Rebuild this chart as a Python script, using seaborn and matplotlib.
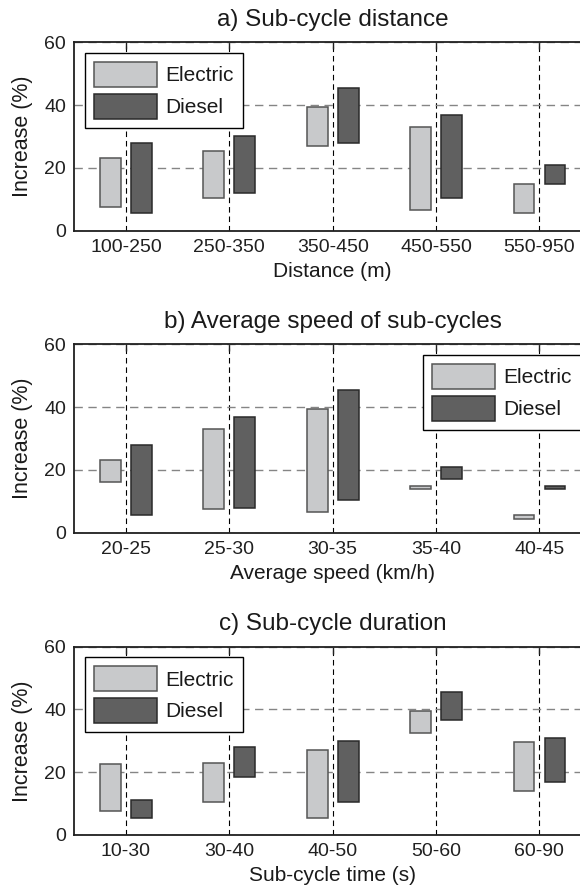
import matplotlib
matplotlib.use("Agg")
import matplotlib.pyplot as plt
import seaborn as sns
import numpy as np

# Sub-cycle distance bins: range of increase (%) per powertrain
dist_labels = ["100-250", "250-350", "350-450", "450-550", "550-950"]
dist_elec_low = [7.5, 10.5, 27, 6.5, 5.5]
dist_elec_high = [23, 25.5, 39.5, 33, 15]
dist_dies_low = [5.5, 12, 28, 10.5, 15]
dist_dies_high = [28, 30, 45.5, 37, 21]

# Average speed bins
speed_labels = ["20-25", "25-30", "30-35", "35-40", "40-45"]
speed_elec_low = [16, 7.5, 6.5, 14, 4.5]
speed_elec_high = [23, 33, 39.5, 15, 5.5]
speed_dies_low = [5.5, 8, 10.5, 17, 14]
speed_dies_high = [28, 37, 45.5, 21, 15]

# Sub-cycle duration bins
time_labels = ["10-30", "30-40", "40-50", "50-60", "60-90"]
time_elec_low = [7.5, 10.5, 5.5, 32.5, 14]
time_elec_high = [22.5, 23, 27, 39.5, 29.5]
time_dies_low = [5.5, 18.5, 10.5, 36.5, 17]
time_dies_high = [11, 28, 30, 45.5, 31]

y_ticks = [0, 20, 40, 60]

sns.set_theme(style="white")
plt.rcParams["font.family"] = ["Liberation Sans", "DejaVu Sans"]

ELEC_FACE, ELEC_EDGE = "#c8c9cb", "#555555"
DIES_FACE, DIES_EDGE = "#606060", "#2a2a2a"


def draw_panel(ax, labels, e_lo, e_hi, d_lo, d_hi, title, xlabel, legend_loc):
    pos = np.arange(1, len(labels) + 1)
    series = [
        ("Electric", e_lo, e_hi, -0.15, ELEC_FACE, ELEC_EDGE),
        ("Diesel", d_lo, d_hi, 0.15, DIES_FACE, DIES_EDGE),
    ]
    for name, lo, hi, shift, face, edge in series:
        lo = np.asarray(lo, dtype=float)
        hi = np.asarray(hi, dtype=float)
        sns.barplot(x=pos + shift, y=hi - lo, bottom=lo, native_scale=True,
                    width=0.2, color=face, saturation=1, edgecolor=edge,
                    linewidth=1.1, errorbar=None, label=name, ax=ax)

    ax.set_xlim(0.5, len(labels) + 0.5)
    ax.set_ylim(0, 60)
    ax.set_xticks(pos)
    ax.set_xticklabels(labels)
    ax.set_yticks(y_ticks)
    ax.set_axisbelow(True)
    ax.grid(axis="x", color="black", linestyle=(0, (5, 3.5)), linewidth=0.8)
    ax.grid(axis="y", color="#858585", linestyle=(0, (6, 4)), linewidth=1.0)

    for sp in ax.spines.values():
        sp.set_visible(True)
        sp.set_color("#202020")
        sp.set_linewidth(1.3)
    ax.tick_params(direction="in", length=5, width=1, top=True, right=True,
                   labelsize=14, pad=6, colors="#202020")
    ax.set_title(title, fontsize=17.5, pad=12, color="#1a1a1a")
    ax.set_xlabel(xlabel, fontsize=15, labelpad=4, color="#1a1a1a")
    ax.set_ylabel("Increase (%)", fontsize=15.5, labelpad=8, color="#1a1a1a")

    leg = ax.legend(loc=legend_loc, frameon=True, fancybox=False,
                    edgecolor="black", framealpha=1, fontsize=15,
                    handlelength=3.0, handleheight=1.47, labelspacing=0.32,
                    borderpad=0.45, handletextpad=0.4, borderaxespad=0.5)
    leg.get_frame().set_linewidth(1.0)
    for t in leg.get_texts():
        t.set_color("#1a1a1a")


fig = plt.figure(figsize=(5.8, 8.88), dpi=100)
left, width, height = 0.1281, 0.891, 0.2122
ax_a = fig.add_axes([left, 0.7402, width, height])
ax_b = fig.add_axes([left, 0.4001, width, height])
ax_c = fig.add_axes([left, 0.0597, width, height])

draw_panel(ax_a, dist_labels, dist_elec_low, dist_elec_high, dist_dies_low,
           dist_dies_high, "a) Sub-cycle distance", "Distance (m)", "upper left")
draw_panel(ax_b, speed_labels, speed_elec_low, speed_elec_high, speed_dies_low,
           speed_dies_high, "b) Average speed of sub-cycles",
           "Average speed (km/h)", "upper right")
draw_panel(ax_c, time_labels, time_elec_low, time_elec_high, time_dies_low,
           time_dies_high, "c) Sub-cycle duration", "Sub-cycle time (s)",
           "upper left")

fig.savefig("out.png", dpi=100)
